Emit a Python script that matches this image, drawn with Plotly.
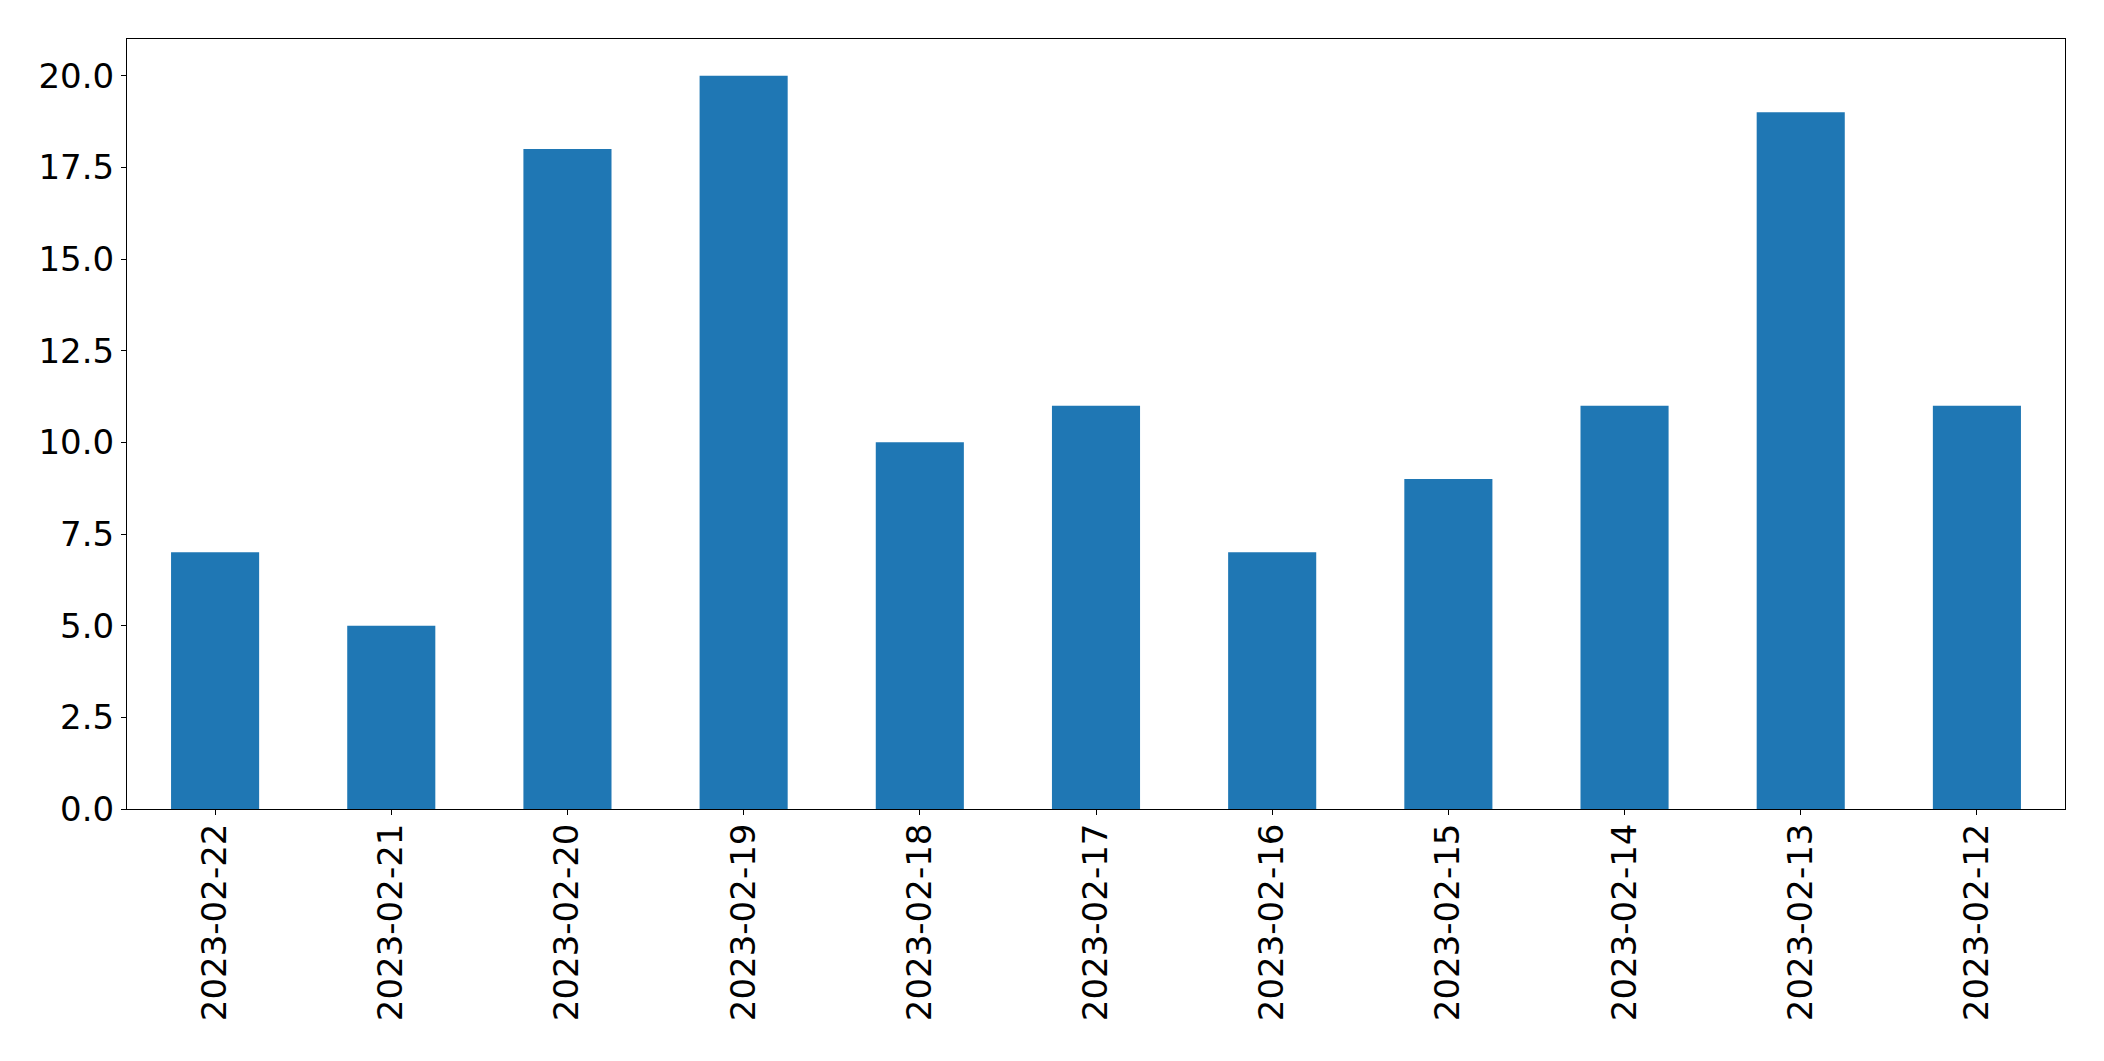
import plotly.graph_objects as go

dates = ["2023-02-22", "2023-02-21", "2023-02-20", "2023-02-19", "2023-02-18", "2023-02-17",
         "2023-02-16", "2023-02-15", "2023-02-14", "2023-02-13", "2023-02-12"]
counts = [7, 5, 18, 20, 10, 11, 7, 9, 11, 19, 11]
y_ticks = [0, 2.5, 5, 7.5, 10, 12.5, 15, 17.5, 20]
y_tick_text = ["0.0", "2.5", "5.0", "7.5", "10.0", "12.5", "15.0", "17.5", "20.0"]

fig = go.Figure(go.Bar(x=dates, y=counts, width=0.5, marker=dict(color="#1f77b4", line=dict(width=0))))

font = dict(family="DejaVu Sans", size=34, color="black")
fig.update_layout(
    width=2096, height=1053,
    margin=dict(l=119, r=39, t=31, b=252),
    paper_bgcolor="white", plot_bgcolor="white",
    showlegend=False,
    font=font,
)
fig.update_xaxes(
    type="category", range=[-0.5, 10.5],
    showline=True, linecolor="black", linewidth=1, mirror=True,
    ticks="outside", ticklen=5, tickcolor="black", tickwidth=1,
    tickangle=-90, showgrid=False, zeroline=False, tickfont=font,
    ticklabelstandoff=-5,
)
fig.update_yaxes(
    range=[0, 21], tickvals=y_ticks, ticktext=y_tick_text,
    showline=True, linecolor="black", linewidth=1, mirror=True,
    ticks="outside", ticklen=5, tickcolor="black", tickwidth=1,
    showgrid=False, zeroline=False, tickfont=font,
)
fig.write_html("out.html")
